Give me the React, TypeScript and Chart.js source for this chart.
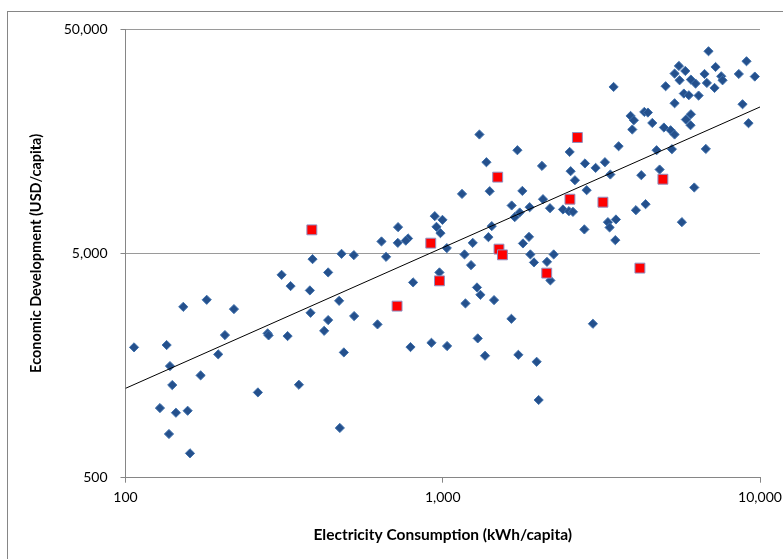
import React, { useEffect, useRef } from "react";
import { Chart, registerables } from "chart.js";

Chart.register(...registerables);

const xTickValues = [100, 1000, 10000];
const yTickValues = [500, 5000, 50000];

const blueX = [
  106.4, 134.8, 152.1, 180.3, 138.1, 140.4, 128.4, 144.2, 157.0, 137.1, 159.7, 172.5, 196.0, 205.8, 219.7, 261.4, 280.5, 282.5, 310.5, 331.4, 324.3, 352.0, 388.7, 381.2, 383.1,
  435.3, 479.7, 524.5, 435.3, 422.9, 471.4, 525.6, 487.8, 473.8, 622.8, 641.1, 662.8, 723.0, 721.5, 777.5, 764.7, 806.4, 791.3, 943.6, 997.9, 955.4, 983.5, 1030, 976.3, 921.3, 1032, 1171, 1228, 1243, 1393, 1427, 1282, 1314, 1179, 1451, 1289, 1359,
  1305, 1373, 1150, 1406, 3456,
  1719, 2055, 1782, 1649, 1686, 1748, 1879, 2070, 2178, 1790, 1870, 1889, 1939, 2131, 2237, 2184, 1646, 1731, 1977, 2006, 2512, 2530, 2610, 2807, 3033, 3245, 3375, 3584, 2842, 2393, 2499, 2573, 2795, 3316, 3357, 3515, 3499, 2974, 3909, 4004, 3958, 4318, 4432, 4576, 4721, 4225, 4063, 4359, 4826,
  6882, 5551, 5380, 5814, 5579, 5041, 6055, 6265, 6686, 6800, 7243, 7548, 7620, 7190, 5754, 5966, 6404, 5380, 8575, 9068, 9630, 8810, 9200, 4978, 5226, 5380, 6055, 5839, 6041, 5276, 6749, 6206, 5672,
];

const blueY = [
  1905, 1951, 2888, 3104, 1572, 1294, 1022, 974, 994, 783, 642, 1429, 1773, 2161, 2821, 1200, 2199, 2154, 4010, 3573, 2139, 1298, 4712, 3418, 2716,
  4111, 4975, 4910, 2520, 2258, 3072, 2626, 1809, 833, 2412, 5649, 4825, 6543, 5569, 5826, 5696, 3711, 1911, 7324, 7051, 6564, 6152, 5276, 4111, 1997, 1931, 4945, 4430, 5569, 5904, 6611, 3524, 3268, 2991, 3094, 2089, 1748,
  16930, 12740, 9204, 9464, 27590,
  14410, 12270, 9492, 8172, 7250, 7606, 8030, 8717, 7947, 5535, 5922, 4945, 4555, 4583, 4945, 3787, 2554, 1765, 1643, 1110, 14160, 11620, 10590, 12580, 12020, 12740, 11230, 15010, 9561, 7844, 7709, 7654, 6391, 6887, 6522, 7079, 5725, 2427, 20490, 19600, 17820, 21350, 21210, 19060, 14410, 11150, 7787, 8282, 11820,
  39790, 34220, 31640, 32500, 29540, 27790, 29750, 28560, 31510, 28740, 33860, 30780, 29540, 27310, 25780, 25330, 25250, 23330, 31510, 35910, 30690, 23100, 19010, 18190, 17690, 16930, 20840, 19740, 18620, 14560, 14600, 9830, 6887,
];

const redX = [386.7, 717.8, 916.7, 976.3, 1504, 1542, 2127, 1490, 2517, 3198, 2657, 4942, 4183];
const redY = [6364, 2909, 5551, 3771, 5221, 4924, 4081, 10930, 8717, 8454, 16420, 10700, 4297];

const trendX = [100, 10000];
const trendY = [1251, 22460];

const xTitle = "Electricity Consumption (kWh/capita)";
const yTitle = "Economic Development (USD/capita)";

const zip = (xs: number[], ys: number[]) => xs.map((x, i) => ({ x, y: ys[i] }));

const FONT = "Lato, 'Open Sans', sans-serif";

const framePlugin = {
  id: "frame",
  beforeDraw(chart: any) {
    const ctx = chart.ctx;
    ctx.save();
    ctx.fillStyle = "#ffffff";
    ctx.fillRect(0, 0, chart.width, chart.height);
    ctx.strokeStyle = "#868686";
    ctx.lineWidth = 1;
    ctx.strokeRect(7.5, 11.5, 900, 700);
    ctx.restore();
  },
};

export default function App() {
  const ref = useRef<HTMLCanvasElement | null>(null);

  useEffect(() => {
    if (!ref.current) return;
    const chart = new Chart(ref.current, {
      type: "scatter",
      data: {
        datasets: [
          {
            label: "Highlighted",
            data: zip(redX, redY),
            pointStyle: "rect",
            pointRadius: 7,
            backgroundColor: "#ff0000",
            borderColor: "#8f8fc0",
            borderWidth: 1,
            order: 0,
          },
          {
            label: "Trend",
            data: zip(trendX, trendY),
            showLine: true,
            pointRadius: 0,
            borderColor: "#000000",
            borderWidth: 1,
            order: 1,
          },
          {
            label: "Countries",
            data: zip(blueX, blueY),
            pointStyle: "rectRot",
            pointRadius: 4.6,
            backgroundColor: "#24508c",
            borderColor: "#4071ad",
            borderWidth: 1,
            order: 2,
          },
        ],
      },
      options: {
        responsive: false,
        animation: false,
        devicePixelRatio: 1,
        layout: { padding: { left: 0, right: 23, top: 29, bottom: 0 } },
        plugins: {
          legend: { display: false },
          tooltip: { enabled: false },
        },
        scales: {
          x: {
            type: "logarithmic",
            min: 100,
            max: 10000,
            afterBuildTicks: (s: any) => {
              s.ticks = xTickValues.map((v) => ({ value: v }));
            },
            afterFit: (s: any) => {
              s.height = 81.3;
              s.paddingLeft = 0;
              s.paddingRight = 0;
            },
            ticks: {
              callback: (v: any) => Number(v).toLocaleString("en-US"),
              font: { family: FONT, size: 14 },
              color: "#000000",
              padding: 6,
              maxRotation: 0,
              autoSkip: false,
            },
            grid: {
              drawOnChartArea: false,
              drawTicks: true,
              tickLength: 5,
              tickColor: "#868686",
            },
            border: { color: "#868686", width: 1 },
            title: {
              display: true,
              text: xTitle,
              color: "#000000",
              font: { family: FONT, size: 15.5, weight: "bold" },
              padding: { top: 0, bottom: 15 },
            },
          },
          y: {
            type: "logarithmic",
            min: 500,
            max: 50000,
            afterBuildTicks: (s: any) => {
              s.ticks = yTickValues.map((v) => ({ value: v }));
            },
            afterFit: (s: any) => {
              s.width = 125.5;
              s.paddingTop = 0;
              s.paddingBottom = 0;
            },
            ticks: {
              callback: (v: any) => Number(v).toLocaleString("en-US"),
              font: { family: FONT, size: 14 },
              color: "#000000",
              padding: 13,
              autoSkip: false,
            },
            grid: {
              drawOnChartArea: true,
              color: "#9a9a9a",
              drawTicks: true,
              tickLength: 5,
              tickColor: "#868686",
            },
            border: { color: "#868686", width: 1 },
            title: {
              display: true,
              text: yTitle,
              color: "#000000",
              font: { family: FONT, size: 14.5, weight: "bold" },
              padding: { top: 27.3, bottom: 0 },
            },
          },
        },
      },
      plugins: [framePlugin],
    });
    return () => chart.destroy();
  }, []);

  return (
    <div style={{ position: "absolute", left: 0, top: 0, width: 783, height: 559 }}>
      <canvas ref={ref} width={783} height={559} style={{ display: "block" }} />
    </div>
  );
}
